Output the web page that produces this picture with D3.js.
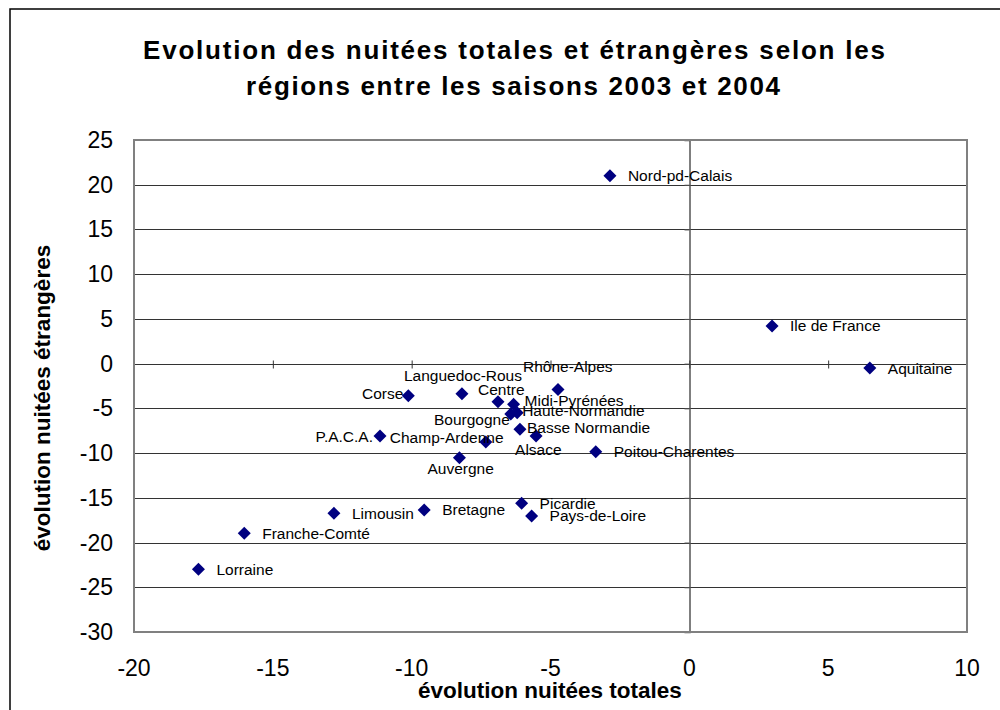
<!DOCTYPE html>
<html>
<head>
<meta charset="utf-8">
<script src="https://cdn.jsdelivr.net/npm/d3@7"></script>
<style>
  body { margin: 0; background: #fff; }
  svg { display: block; font-family: Arial, "Liberation Sans", sans-serif; }
</style>
</head>
<body>
<script>
// régions et évolutions (%)
const regions = ["Nord-pd-Calais", "Ile de France", "Aquitaine", "Rhône-Alpes", "Languedoc-Rous", "Corse",
    "Centre", "Midi-Pyrénées", "Haute-Normandie", "Bourgogne", "Basse Normandie", "Alsace", "Champ-Ardenne",
    "P.A.C.A.", "Auvergne", "Poitou-Charentes", "Picardie", "Pays-de-Loire", "Bretagne", "Limousin",
    "Franche-Comté", "Lorraine"];
const totales = [-2.86, 2.98, 6.5, -4.73, -8.19, -10.12, -6.89, -6.33, -6.2, -6.43, -6.1, -5.52, -7.33,
    -11.14, -8.28, -3.37, -6.04, -5.68, -9.55, -12.8, -16.03, -17.68];
const etrangeres = [21.01, 4.21, -0.49, -2.9, -3.36, -3.59, -4.26, -4.55, -5.49, -5.63, -7.34, -8.09, -8.76,
    -8.09, -10.52, -9.85, -15.61, -17.03, -16.36, -16.73, -18.97, -22.99];
const xTicks = [-20, -15, -10, -5, 0, 5, 10];
const yTicks = [25, 20, 15, 10, 5, 0, -5, -10, -15, -20, -25, -30];

// placement des étiquettes déplacées à la main (dx, dy en px, ancre)
const labelPos = {
    "Rhône-Alpes": [-35, -23, "start"],
    "Languedoc-Rous": [-58, -18, "start"],
    "Corse": [-5, -2, "end"],
    "Centre": [-20, -12, "start"],
    "Midi-Pyrénées": [11, -4, "start"],
    "Haute-Normandie": [5, -2, "start"],
    "Bourgogne": [-1, 6, "end"],
    "Basse Normandie": [7, -2, "start"],
    "Alsace": [-21, 13, "start"],
    "Champ-Ardenne": [-96, -4, "start"],
    "P.A.C.A.": [-7, 0, "end"],
    "Auvergne": [-32, 11, "start"]
};

const data = regions.map((r, i) => ({ name: r, x: totales[i], y: etrangeres[i] }));

const W = 1000, H = 710;
const plot = { left: 134, right: 967, top: 140, bottom: 632 };

const svg = d3.select("body").append("svg")
    .attr("width", W)
    .attr("height", H);

// cadre extérieur
svg.append("rect")
    .attr("x", 10).attr("y", 9)
    .attr("width", 1000).attr("height", 710)
    .attr("fill", "none")
    .attr("stroke", "#000")
    .attr("stroke-width", 1.5);

const x = d3.scaleLinear().domain([-20, 10]).range([plot.left, plot.right]);
const y = d3.scaleLinear().domain([-30, 25]).range([plot.bottom, plot.top]);

// titre
const title = svg.append("g")
    .attr("font-weight", "bold")
    .attr("font-size", "26px")
    .attr("fill", "#000");
title.append("text")
    .attr("x", 143).attr("y", 59)
    .attr("textLength", 742).attr("lengthAdjust", "spacing")
    .text("Evolution des nuitées totales et étrangères selon les");
title.append("text")
    .attr("x", 246).attr("y", 95)
    .attr("textLength", 534).attr("lengthAdjust", "spacing")
    .text("régions entre les saisons 2003 et 2004");

// quadrillage horizontal
svg.append("g")
    .selectAll("line")
    .data(yTicks.filter(d => d > -30 && d < 25))
    .enter()
    .append("line")
    .attr("x1", plot.left).attr("x2", plot.right)
    .attr("y1", d => Math.round(y(d)) + 0.5)
    .attr("y2", d => Math.round(y(d)) + 0.5)
    .attr("stroke", "#333")
    .attr("stroke-width", 1);

// axe vertical en x = 0, graduations à gauche
svg.append("g")
    .attr("transform", "translate(" + (Math.round(x(0)) + 0.5) + ",0)")
    .call(d3.axisLeft(y).tickValues(yTicks).tickSize(5).tickFormat(""))
    .call(g => g.select(".domain").attr("stroke", "#555").attr("stroke-width", 1.5))
    .call(g => g.selectAll(".tick line").attr("stroke", "#555"));

// axe horizontal en y = 0, graduations croisées
svg.append("g")
    .attr("transform", "translate(0," + (Math.round(y(0)) + 0.5) + ")")
    .call(d3.axisBottom(x).tickValues(xTicks).tickSizeInner(4).tickSizeOuter(0).tickFormat(""))
    .call(g => g.select(".domain").remove())
    .call(g => g.selectAll(".tick line").attr("y1", -4).attr("stroke", "#333"));

// bordure de la zone de tracé
svg.append("rect")
    .attr("x", plot.left).attr("y", plot.top)
    .attr("width", plot.right - plot.left)
    .attr("height", plot.bottom - plot.top)
    .attr("fill", "none")
    .attr("stroke", "#808080")
    .attr("stroke-width", 2);

// libellés des graduations
svg.append("g")
    .selectAll("text")
    .data(yTicks)
    .enter()
    .append("text")
    .attr("x", 113)
    .attr("y", d => y(d) + 8)
    .attr("text-anchor", "end")
    .attr("font-size", "23px")
    .text(d => d);

svg.append("g")
    .selectAll("text")
    .data(xTicks)
    .enter()
    .append("text")
    .attr("x", d => x(d))
    .attr("y", 676)
    .attr("text-anchor", "middle")
    .attr("font-size", "23px")
    .text(d => d);

// titres des axes
svg.append("text")
    .attr("x", 550).attr("y", 698)
    .attr("text-anchor", "middle")
    .attr("font-size", "22.5px")
    .attr("font-weight", "bold")
    .text("évolution nuitées totales");

svg.append("text")
    .attr("transform", "translate(50,398) rotate(-90)")
    .attr("text-anchor", "middle")
    .attr("font-size", "22.5px")
    .attr("font-weight", "bold")
    .text("évolution nuitées étrangères");

// points en losange
const diamond = "M0,-6.5L6.5,0L0,6.5L-6.5,0Z";
svg.append("g")
    .selectAll("path")
    .data(data)
    .enter()
    .append("path")
    .attr("d", diamond)
    .attr("transform", d => "translate(" + x(d.x) + "," + y(d.y) + ")")
    .attr("fill", "#000080");

// étiquettes
svg.append("g")
    .selectAll("text")
    .data(data)
    .enter()
    .append("text")
    .attr("x", d => x(d.x) + (labelPos[d.name] ? labelPos[d.name][0] : 18))
    .attr("y", d => y(d.y) + (labelPos[d.name] ? labelPos[d.name][1] : 0) + 5.5)
    .attr("text-anchor", d => labelPos[d.name] ? labelPos[d.name][2] : "start")
    .attr("font-size", "15.5px")
    .attr("fill", "#000")
    .text(d => d.name);
</script>
</body>
</html>
